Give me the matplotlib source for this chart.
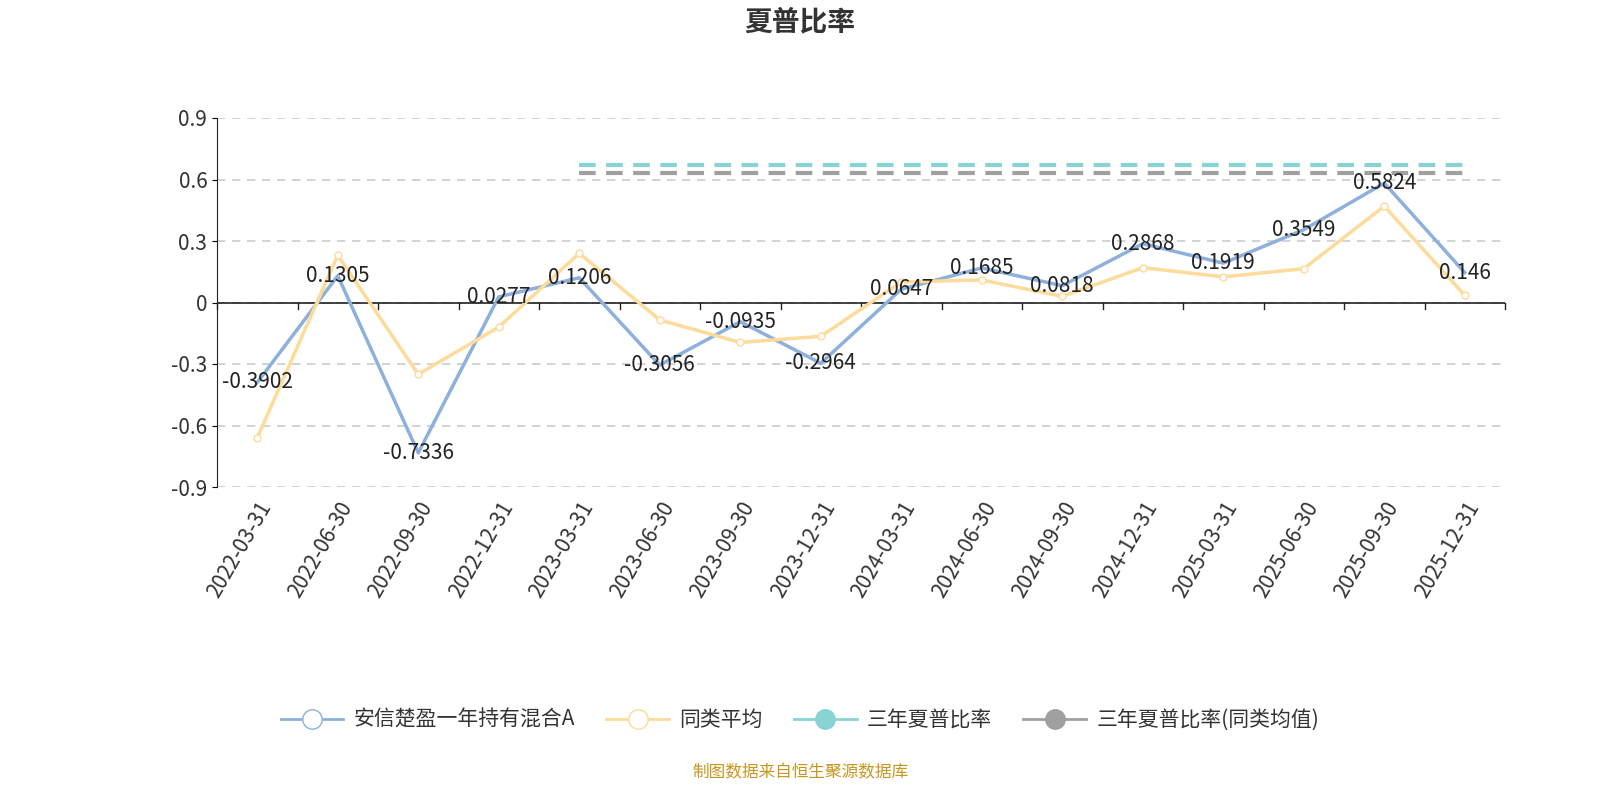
import matplotlib
matplotlib.use("Agg")
import matplotlib.pyplot as plt
from matplotlib.lines import Line2D

plt.rcParams['font.family'] = ['Noto Sans CJK SC', 'DejaVu Sans']

dates = ['2022-03-31', '2022-06-30', '2022-09-30', '2022-12-31', '2023-03-31', '2023-06-30',
         '2023-09-30', '2023-12-31', '2024-03-31', '2024-06-30', '2024-09-30', '2024-12-31',
         '2025-03-31', '2025-06-30', '2025-09-30', '2025-12-31']
fund = [-0.3902, 0.1305, -0.7336, 0.0277, 0.1206, -0.3056, -0.0935, -0.2964, 0.0647, 0.1685,
        0.0818, 0.2868, 0.1919, 0.3549, 0.5824, 0.146]
peer = [-0.66, 0.23, -0.35, -0.12, 0.24, -0.085, -0.195, -0.165, 0.10, 0.11, 0.03, 0.17,
        0.125, 0.165, 0.47, 0.035]
three_year = 0.673
three_year_peer = 0.634
three_year_start = 4

blue = '#8eb0dc'
yellow = '#fddb9a'
teal = '#88d4d4'
gray = '#a0a0a0'

fig = plt.figure(figsize=(16, 8), dpi=100)
ax = fig.add_axes([217/1600, 1-487/800, 1288/1600, 369/800])
x = list(range(len(dates)))

ax.plot(x, fund, color=blue, lw=2.5, zorder=3)
ax.plot(x, peer, color=yellow, lw=2.5, marker='o', ms=5, mfc='white', mec=yellow, zorder=4)
xs = x[three_year_start:]
ax.plot(xs, [three_year]*len(xs), color=teal, lw=3, ls=(0, (4, 2.5)), zorder=2)
ax.plot(xs, [three_year_peer]*len(xs), color=gray, lw=3, ls=(0, (4, 2.5)), zorder=2)

for i, v in enumerate(fund):
    ax.text(i, v, f'{v:g}', ha='center', va='center', fontsize=15, color='#222222', zorder=5)

ax.set_xlim(-0.5, len(dates) - 0.5)
ax.set_ylim(-0.9, 0.9)
ticks = [-0.9, -0.6, -0.3, 0, 0.3, 0.6, 0.9]
ax.set_yticks(ticks)
ax.set_yticklabels([f'{t:g}' for t in ticks], fontsize=15, color='#333333')
ax.set_xticks(x)
ax.set_xticklabels(dates, rotation=60, ha='right', rotation_mode='anchor', fontsize=15, color='#333333')
ax.set_xticks([i - 0.5 for i in range(len(dates) + 1)], minor=True)
ax.tick_params(axis='x', which='major', length=0, pad=8)
ax.tick_params(axis='x', which='minor', length=6)
ax.grid(axis='y', ls=(0, (5, 4)), color='#cccccc', lw=1.2)
for s in ['top', 'right', 'bottom']:
    ax.spines[s].set_visible(False)
ax.axhline(0, color='#222222', lw=1.2, zorder=2)
ax.spines['left'].set_color('#222222')
# bottom axis ticks at zero line
for b in [i - 0.5 for i in range(len(dates) + 1)]:
    ax.plot([b, b], [0, -0.03], color='#222222', lw=1, clip_on=False)
ax.tick_params(axis='x', which='minor', length=0)

fig.text(0.5, 1-22/800, '夏普比率', ha='center', va='center', fontsize=20, fontweight='bold', color='#333333')

handles = [
    Line2D([], [], color=blue, lw=2, marker='o', ms=14, mfc='white', mec=blue),
    Line2D([], [], color=yellow, lw=2, marker='o', ms=14, mfc='white', mec=yellow),
    Line2D([], [], color=teal, lw=2, marker='o', ms=14, mfc=teal, mec=teal),
    Line2D([], [], color=gray, lw=2, marker='o', ms=14, mfc=gray, mec=gray),
]
labels = ['安信楚盈一年持有混合A', '同类平均', '三年夏普比率', '三年夏普比率(同类均值)']
fig.legend(handles, labels, loc='center', bbox_to_anchor=(0.5, 1-720/800), ncol=4, frameon=False,
           fontsize=15, handlelength=3, columnspacing=1.5, handletextpad=0.5, labelcolor='#333333')

fig.text(0.5, 1-773/800, '制图数据来自恒生聚源数据库', ha='center', va='center', fontsize=12, color='#c8961e')

fig.savefig('out.png')
